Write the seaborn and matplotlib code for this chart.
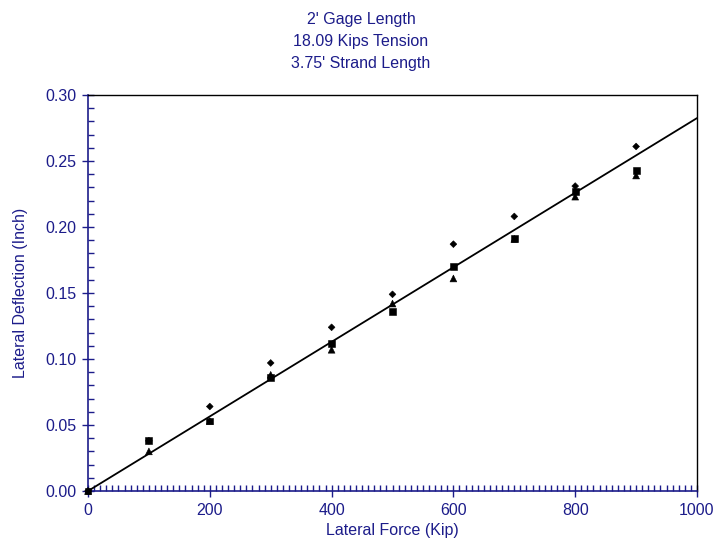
import matplotlib
matplotlib.use("Agg")
import matplotlib.pyplot as plt
import seaborn as sns
import pandas as pd
from matplotlib.ticker import MultipleLocator, FormatStrFormatter

sns.set_theme(style="white")
plt.rcParams['font.family'] = ['Liberation Sans', 'DejaVu Sans']

force = [0, 100, 200, 300, 400, 500, 600, 700, 800, 900]
gage_a = [0.000, 0.038, 0.064, 0.097, 0.124, 0.149, 0.187, 0.208, 0.231, 0.261]  # diamonds
gage_b = [0.000, 0.038, 0.053, 0.086, 0.112, 0.136, 0.170, 0.191, 0.227, 0.243]  # squares
gage_c = [0.000, 0.030, 0.053, 0.088, 0.107, 0.142, 0.161, 0.191, 0.223, 0.239]  # triangles
fit_x = [0, 1000]
fit_y = [0.0, 0.2825]

title_lines = ["2' Gage Length", "18.09 Kips Tension", "3.75' Strand Length"]
xlabel = "Lateral Force (Kip)"
ylabel = "Lateral Deflection (Inch)"

navy = "#1c1c8a"

df = pd.DataFrame({
    "force": force * 3,
    "defl": gage_a + gage_b + gage_c,
    "series": ["A"] * len(force) + ["B"] * len(force) + ["C"] * len(force),
})
fit = pd.DataFrame({"x": fit_x, "y": fit_y})

fig = plt.figure(figsize=(7.22, 5.52), dpi=100)
ax = fig.add_axes([88 / 722, 1 - 491 / 552, (697 - 88) / 722, (491 - 95) / 552])

sns.lineplot(data=fit, x="x", y="y", ax=ax, color="black", linewidth=1.3, zorder=2)
sns.scatterplot(data=df, x="force", y="defl", style="series", size="series",
                markers={"A": "D", "B": "s", "C": "^"},
                sizes={"A": 12, "B": 24, "C": 24}, color="black", edgecolor="black",
                linewidth=0.4, ax=ax, legend=False, zorder=3, clip_on=False)

ax.set_xlim(0, 1000)
ax.set_ylim(0, 0.30)
ax.xaxis.set_major_locator(MultipleLocator(200))
ax.xaxis.set_minor_locator(MultipleLocator(10))
ax.yaxis.set_major_locator(MultipleLocator(0.05))
ax.yaxis.set_minor_locator(MultipleLocator(0.01))
ax.yaxis.set_major_formatter(FormatStrFormatter("%.2f"))

ax.tick_params(axis="both", which="major", direction="inout", length=9, width=1,
               color=navy, labelcolor=navy, labelsize=11.5, pad=4)
ax.tick_params(axis="both", which="minor", direction="in", length=4, width=1, color=navy)
ax.tick_params(bottom=True, left=True, top=False, right=False, which="both")

for side in ["left", "bottom"]:
    ax.spines[side].set_color(navy)
    ax.spines[side].set_linewidth(1.2)
for side in ["top", "right"]:
    ax.spines[side].set_color("black")
    ax.spines[side].set_linewidth(1.0)

ax.set_xlabel(xlabel, color=navy, fontsize=11.5, labelpad=4)
ax.set_ylabel(ylabel, color=navy, fontsize=11.5, labelpad=12)

fig.text(0.5, 1 - 12 / 552, "\n".join(title_lines), ha="center", va="top",
         color=navy, fontsize=11.5, linespacing=1.6)

fig.savefig("out.png", dpi=100)
